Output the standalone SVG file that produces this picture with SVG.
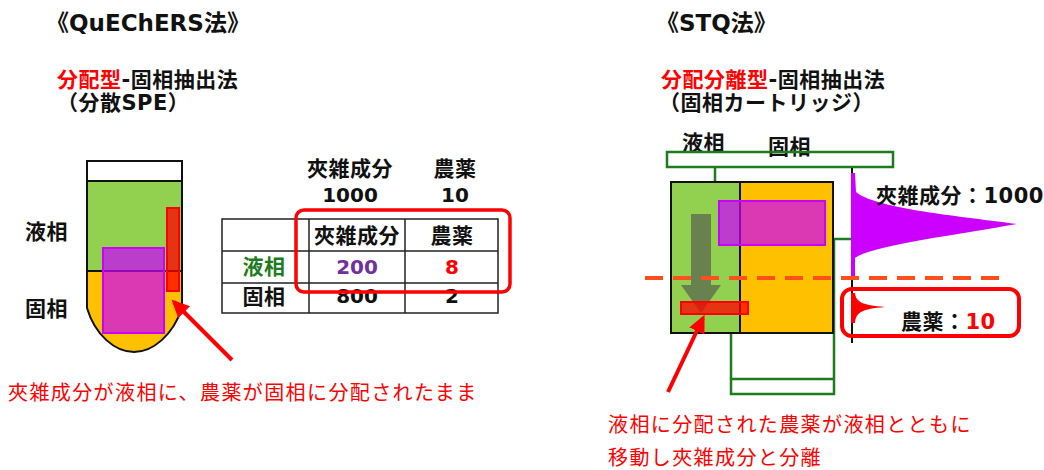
<svg xmlns="http://www.w3.org/2000/svg" width="1044" height="470" viewBox="0 0 1044 470">
<defs>
<style>
.b{font-family:'DejaVu Sans','Noto Sans CJK JP',sans-serif;font-weight:bold;font-size:20px;fill:#111}
.j{font-family:'DejaVu Sans','Noto Sans CJK JP',sans-serif;font-weight:bold;font-size:21px;letter-spacing:0.5px;fill:#111}
.t{font-family:'DejaVu Sans','Noto Sans CJK JP',sans-serif;font-weight:bold;font-size:23px;fill:#111}
.n{font-family:'Noto Sans CJK JP',sans-serif;font-size:20px;fill:#FF0000;letter-spacing:1.4px}
.c{text-anchor:middle}
.red{fill:#FF0000}
.grn{fill:#1E7B1E}
.pur{fill:#7030A0}
.mag{fill:#CC00FF;fill-opacity:0.7;stroke:#CC00FF;stroke-width:2}
.rbar{fill:#FF0000;fill-opacity:0.75;stroke:#FF0000;stroke-width:2}
.gl{fill:none;stroke:#1E7B1E;stroke-width:2.5}
.tb{stroke:#222;stroke-width:1.5;fill:none}
.box{stroke:#111;stroke-width:2}
.arrow{stroke:#FF0000;stroke-width:4;fill:none;marker-end:url(#ah)}
.rr{fill:none;stroke:#FF0000;stroke-width:4}
</style>
<marker id="ah" markerWidth="4.5" markerHeight="4.2" refX="3.6" refY="2.1" orient="auto" markerUnits="strokeWidth">
<path d="M0,0 L4.5,2.1 L0,4.2 z" fill="#FF0000"/>
</marker>
</defs>
<rect width="1044" height="470" fill="#fff"/>

<g id="title-left">
<text class="t" x="46" y="31">《QuEChERS法》</text>
<text class="j" x="57" y="87"><tspan class="red">分配型</tspan>-固相抽出法</text>
<text class="j" x="57" y="110">（分散SPE）</text>
</g>

<g id="title-right">
<text class="t" x="656" y="31">《STQ法》</text>
<text class="j" x="661" y="87"><tspan class="red">分配分離型</tspan>-固相抽出法</text>
<text class="j" x="659" y="110">（固相カートリッジ）</text>
</g>

<g id="tube">
<rect x="87" y="161" width="95" height="20" fill="#fff" class="box"/>
<rect x="87" y="181" width="95" height="90" fill="#92D050"/>
<path d="M87,271 L87,308 C95,335 115,352 134,352 C153,352 173,335 182,308 L182,271 Z" fill="#FFC000"/>
<path d="M87,181 L87,308 C95,335 115,352 134,352 C153,352 173,335 182,308 L182,181 Z" fill="none" class="box"/>
<line x1="87" y1="271" x2="182" y2="271" class="box"/>
<rect x="103" y="248" width="61" height="85" class="mag"/>
<rect x="167" y="208" width="12" height="83" class="rbar"/>
<text class="j" x="25" y="239">液相</text>
<text class="j" x="25" y="316">固相</text>
</g>

<g id="table">
<text class="j c" x="350" y="176">夾雑成分</text>
<text class="j c" x="455" y="176">農薬</text>
<text class="b c" x="350" y="202">1000</text>
<text class="b c" x="455" y="202">10</text>
<rect x="222" y="219" width="276" height="94" class="tb"/>
<line x1="309" y1="219" x2="309" y2="313" class="tb"/>
<line x1="405" y1="219" x2="405" y2="313" class="tb"/>
<line x1="222" y1="251" x2="498" y2="251" class="tb"/>
<line x1="222" y1="283" x2="498" y2="283" class="tb"/>
<text class="j c" x="357" y="243">夾雑成分</text>
<text class="j c" x="452" y="243">農薬</text>
<text class="j c grn" x="264" y="274">液相</text>
<text class="b c pur" x="357" y="274">200</text>
<text class="b c red" x="452" y="274">8</text>
<text class="j c" x="264" y="304">固相</text>
<text class="b c" x="357" y="303">800</text>
<text class="b c" x="452" y="303">2</text>
<rect x="296" y="210" width="214" height="82" rx="8" fill="none" stroke="#FF0000" stroke-width="3.5"/>
</g>

<g id="cartridge">
<text class="j" x="682" y="150">液相</text>
<text class="j" x="768" y="154">固相</text>
<rect x="667" y="152" width="226" height="15" fill="#fff" class="gl"/>
<line x1="715" y1="167" x2="715" y2="182" class="gl"/>
<path d="M731,333 L731,394 L834,394 L834,239 L852,239" class="gl"/>
<line x1="731" y1="379" x2="834" y2="379" class="gl"/>
<rect x="671" y="182" width="69" height="151" fill="#92D050" class="box"/>
<rect x="740" y="182" width="93" height="151" fill="#FFC000" class="box"/>
<rect x="719" y="201" width="106" height="44" class="mag"/>
<path d="M691,214 L711,214 L711,285 L721,285 L701,313 L681,285 L691,285 Z" fill="#4d4d4d" fill-opacity="0.6"/>
<rect x="681" y="302" width="67" height="12" class="rbar"/>
</g>

<g id="chromatogram">
<line x1="852" y1="168" x2="852" y2="343" stroke="#111" stroke-width="2"/>
<path d="M851,173 L851,277 L855,277 L855,258 C870,246 950,236 1017,224 C950,215 875,208 856,192 L855,173 Z" fill="#CC00FF"/>
<path d="M851,293 L851,323 L855,323 C856,312 862,309 885,307 C862,305 856,302 855,293 Z" fill="#FF0000"/>
<text class="j" x="876" y="203">夾雑成分：1000</text>
<rect x="842" y="289" width="177" height="47" rx="10" class="rr"/>
<text class="j" x="901" y="329">農薬：<tspan class="red">10</tspan></text>
</g>

<line id="separation-line" x1="645" y1="278" x2="1002" y2="278" stroke="#FF4F1A" stroke-width="4" stroke-dasharray="18 10"/>

<g id="connectors">
<line x1="232" y1="360" x2="174" y2="302" class="arrow"/>
<line x1="668" y1="392" x2="703" y2="318" class="arrow"/>
</g>

<g id="notes">
<text class="n" x="8" y="400">夾雑成分が液相に、農薬が固相に分配されたまま</text>
<text class="n" x="608" y="432">液相に分配された農薬が液相とともに</text>
<text class="n" x="608" y="465">移動し夾雑成分と分離</text>
</g>
</svg>
